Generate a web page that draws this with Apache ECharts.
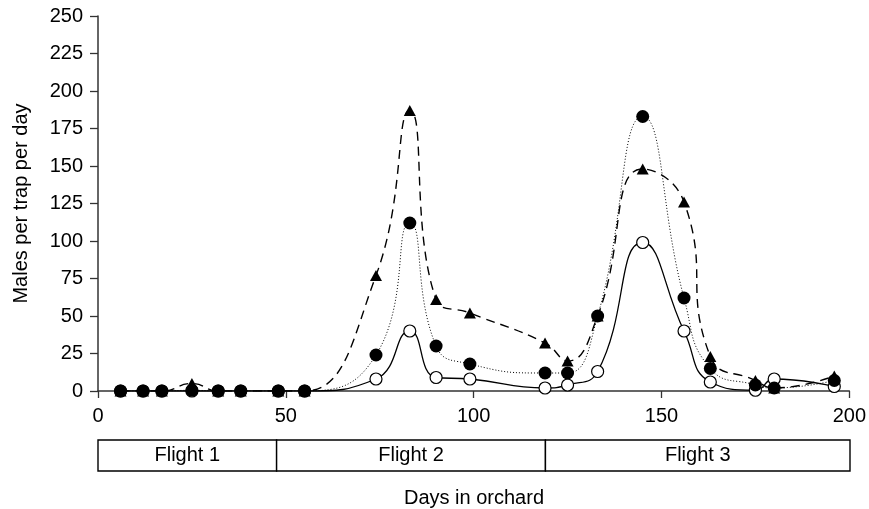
<!DOCTYPE html>
<html>
<head>
<meta charset="utf-8">
<script src="https://cdn.jsdelivr.net/npm/echarts@6/dist/echarts.min.js"></script>
<style>
html,body{margin:0;padding:0;background:#fff;}
#chart{width:869px;height:509px;}
</style>
</head>
<body>
<div id="chart"></div>
<script>
// Days in orchard (sampling dates)
const days = [6, 12, 17, 25, 32, 38, 48, 55, 74, 83, 90, 99, 119, 125, 133, 145, 156, 163, 175, 180, 196];
// Males per trap per day
const openCircles = [0, 0, 0, 0, 0, 0, 0, 0, 8, 40, 9, 8, 2, 4, 13, 99, 40, 6, 0.5, 8, 3];
const filledCircles = [0, 0, 0, 0.5, 0, 0, 0, 0, 24, 112, 30, 18, 12, 12, 50, 183, 62, 15, 4, 2, 7];
const triangles = [0, 0, 0, 5, 0, 0, 0, 0, 77, 187, 61, 52, 32, 20, 50, 148, 126, 23, 7, 2, 10];
// Flight periods [start, end]
const flightNames = ['Flight 1', 'Flight 2', 'Flight 3'];
const flightStart = [0, 47.5, 119];
const flightEnd = [47.5, 119, 200];
// Axis ticks
const xTicks = [0, 50, 100, 150, 200];
const yTicks = [0, 25, 50, 75, 100, 125, 150, 175, 200, 225, 250];

const font = 'Liberation Sans, Arial, Helvetica, sans-serif';
const pairs = arr => days.map((d, i) => [d, arr[i]]);

const chart = echarts.init(document.getElementById('chart'), null, {renderer: 'canvas'});
chart.setOption({
  animation: false,
  backgroundColor: '#fff',
  grid: [
    {left: 98, right: 19, top: 16, bottom: 118},
    {left: 98, right: 19, top: 440, height: 31}
  ],
  xAxis: [
    {
      gridIndex: 0, type: 'value', min: xTicks[0], max: xTicks[xTicks.length - 1], interval: 50,
      axisLine: {show: true, onZero: false, lineStyle: {color: '#333', width: 1.5}},
      axisTick: {show: true, inside: false, length: 7, lineStyle: {color: '#333', width: 1.3}},
      axisLabel: {color: '#000', fontSize: 20, fontFamily: font, margin: 15},
      splitLine: {show: false}
    },
    {
      gridIndex: 1, type: 'value', min: 0, max: 200,
      axisLine: {show: false}, axisTick: {show: false}, axisLabel: {show: false}, splitLine: {show: false},
      name: 'Days in orchard', nameLocation: 'middle', nameGap: 17,
      nameTextStyle: {color: '#000', fontSize: 20, fontFamily: font}
    }
  ],
  yAxis: [
    {
      gridIndex: 0, type: 'value', min: yTicks[0], max: yTicks[yTicks.length - 1], interval: 25,
      axisLine: {show: true, lineStyle: {color: '#333', width: 1.5}},
      axisTick: {show: true, inside: false, length: 8, lineStyle: {color: '#333', width: 1.3}},
      axisLabel: {color: '#000', fontSize: 20, fontFamily: font, margin: 15},
      splitLine: {show: false},
      name: 'Males per trap per day', nameLocation: 'middle', nameGap: 67,
      nameTextStyle: {color: '#000', fontSize: 20, fontFamily: font}
    },
    {
      gridIndex: 1, type: 'value', min: 0, max: 1,
      axisLine: {show: false}, axisTick: {show: false}, axisLabel: {show: false}, splitLine: {show: false}
    }
  ],
  series: [
    {
      type: 'line', name: 'triangles', xAxisIndex: 0, yAxisIndex: 0,
      data: pairs(triangles), smooth: 0.5, z: 2,
      symbol: 'triangle', symbolSize: [12, 11],
      lineStyle: {color: '#000', width: 1.4, type: [9, 6]},
      itemStyle: {color: '#000'}
    },
    {
      type: 'line', name: 'open', xAxisIndex: 0, yAxisIndex: 0,
      data: pairs(openCircles), smooth: 0.5, z: 3,
      symbol: 'circle', symbolSize: 12, showAllSymbol: true,
      lineStyle: {color: '#000', width: 1.3, type: 'solid'},
      itemStyle: {color: '#fff', borderColor: '#000', borderWidth: 1.2}
    },
    {
      type: 'line', name: 'filled', xAxisIndex: 0, yAxisIndex: 0,
      data: pairs(filledCircles), smooth: 0.5, z: 4,
      symbol: 'circle', symbolSize: 13, showAllSymbol: true,
      lineStyle: {color: '#000', width: 1, type: [1, 2]},
      itemStyle: {color: '#000'}
    },
    {
      type: 'custom', xAxisIndex: 1, yAxisIndex: 1,
      data: flightNames.map((n, i) => [flightStart[i], flightEnd[i]]),
      renderItem: function (params, api) {
        const p0 = api.coord([api.value(0), 1]);
        const p1 = api.coord([api.value(1), 0]);
        return {
          type: 'rect',
          shape: {x: p0[0], y: p0[1], width: p1[0] - p0[0], height: p1[1] - p0[1]},
          style: {fill: '#fff', stroke: '#000', lineWidth: 1.4},
          textContent: {
            style: {text: flightNames[params.dataIndex], fill: '#000', fontSize: 20, fontFamily: font}
          },
          textConfig: {position: 'inside'}
        };
      }
    }
  ]
});
</script>
</body>
</html>
